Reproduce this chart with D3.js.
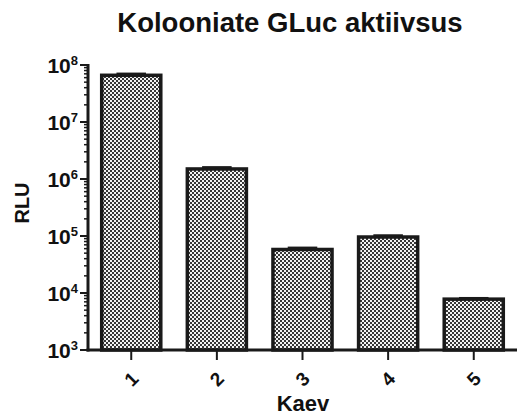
<!DOCTYPE html>
<html>
<head>
<meta charset="utf-8">
<script src="https://cdn.jsdelivr.net/npm/d3@7"></script>
<style>
  body { margin: 0; background: #fff; }
  text { font-family: "Liberation Sans", Arial, sans-serif; font-weight: bold; fill: #111; }
</style>
</head>
<body>
<div id="chart"></div>
<script>
const categories = ["1", "2", "3", "4", "5"];
const values = [6.6e7, 1.5e6, 5.8e4, 9.6e4, 7.8e3];
const errors = [4e6, 1e5, 4e3, 6e3, 3e2];
const decades = [3, 4, 5, 6, 7, 8];

const width = 517, height = 419;
const margin = { top: 65, right: 0, bottom: 69, left: 88 };

const svg = d3.select("#chart")
  .append("svg")
  .attr("width", width)
  .attr("height", height);

// checker fill like the original print
const defs = svg.append("defs");
const pat = defs.append("pattern")
  .attr("id", "checker")
  .attr("patternUnits", "userSpaceOnUse")
  .attr("width", 4)
  .attr("height", 4);
pat.append("rect").attr("width", 4).attr("height", 4).attr("fill", "#f4f4f4");
pat.append("rect").attr("width", 2).attr("height", 2).attr("fill", "#383838");
pat.append("rect").attr("x", 2).attr("y", 2).attr("width", 2).attr("height", 2).attr("fill", "#383838");

const x = d3.scaleBand()
  .domain(categories)
  .range([margin.left, width - margin.right])
  .paddingInner(0.31)
  .paddingOuter(0.16);

const y = d3.scaleLog()
  .domain([1e3, 1e8])
  .range([height - margin.bottom, margin.top]);

// bars
svg.selectAll(".bar")
  .data(values)
  .enter()
  .append("rect")
  .attr("class", "bar")
  .attr("x", (d, i) => x(categories[i]))
  .attr("y", d => y(d))
  .attr("width", x.bandwidth())
  .attr("height", d => y(1e3) - y(d))
  .attr("fill", "url(#checker)")
  .attr("stroke", "#1a1a1a")
  .attr("stroke-width", 3.5);

// error caps (upper only)
svg.selectAll(".err")
  .data(values)
  .enter()
  .append("g")
  .each(function (d, i) {
    const cx = x(categories[i]) + x.bandwidth() / 2;
    const g = d3.select(this);
    g.append("line")
      .attr("x1", cx).attr("x2", cx)
      .attr("y1", y(d)).attr("y2", y(d + errors[i]))
      .attr("stroke", "#1a1a1a").attr("stroke-width", 2);
    g.append("line")
      .attr("x1", cx - x.bandwidth() / 4).attr("x2", cx + x.bandwidth() / 4)
      .attr("y1", y(d + errors[i])).attr("y2", y(d + errors[i]))
      .attr("stroke", "#1a1a1a").attr("stroke-width", 2.5);
  });

// y axis
const yAxis = svg.append("g");
yAxis.append("line")
  .attr("x1", margin.left).attr("x2", margin.left)
  .attr("y1", y(1e8) - 1).attr("y2", y(1e3) + 1.5)
  .attr("stroke", "#1a1a1a").attr("stroke-width", 3);

const minor = [];
decades.slice(0, -1).forEach(p => {
  for (let k = 2; k <= 9; k++) minor.push(k * Math.pow(10, p));
});
yAxis.selectAll(".minor")
  .data(minor)
  .enter()
  .append("line")
  .attr("x1", margin.left - 4).attr("x2", margin.left)
  .attr("y1", d => y(d)).attr("y2", d => y(d))
  .attr("stroke", "#1a1a1a").attr("stroke-width", 1.5);

yAxis.selectAll(".major")
  .data(decades)
  .enter()
  .append("line")
  .attr("x1", margin.left - 8).attr("x2", margin.left)
  .attr("y1", d => y(Math.pow(10, d))).attr("y2", d => y(Math.pow(10, d)))
  .attr("stroke", "#1a1a1a").attr("stroke-width", 2);

const yl = yAxis.selectAll(".ylab")
  .data(decades)
  .enter()
  .append("text")
  .attr("x", margin.left - 10)
  .attr("y", d => y(Math.pow(10, d)) + 8)
  .attr("text-anchor", "end")
  .style("font-size", "21px");
yl.append("tspan").text("10");
yl.append("tspan")
  .attr("dy", -8)
  .style("font-size", "13px")
  .text(d => d);

// x axis
const xAxis = svg.append("g");
xAxis.append("line")
  .attr("x1", margin.left - 1.5).attr("x2", width)
  .attr("y1", y(1e3)).attr("y2", y(1e3))
  .attr("stroke", "#1a1a1a").attr("stroke-width", 3);

xAxis.selectAll(".xt")
  .data(categories)
  .enter()
  .append("line")
  .attr("x1", d => x(d) + x.bandwidth() / 2)
  .attr("x2", d => x(d) + x.bandwidth() / 2)
  .attr("y1", y(1e3)).attr("y2", y(1e3) + 10)
  .attr("stroke", "#1a1a1a").attr("stroke-width", 2);

xAxis.selectAll(".xlab")
  .data(categories)
  .enter()
  .append("text")
  .attr("transform", d => `translate(${x(d) + x.bandwidth() / 2}, ${y(1e3) + 29}) rotate(-45)`)
  .attr("text-anchor", "middle")
  .attr("dy", "0.35em")
  .style("font-size", "19px")
  .text(d => d);

// titles
svg.append("text")
  .attr("x", 290)
  .attr("y", 32)
  .attr("text-anchor", "middle")
  .style("font-size", "27.5px")
  .text("Kolooniate GLuc aktiivsus");

svg.append("text")
  .attr("x", 303)
  .attr("y", 411)
  .attr("text-anchor", "middle")
  .style("font-size", "22px")
  .text("Kaev");

svg.append("text")
  .attr("transform", "translate(29, 203) rotate(-90)")
  .attr("text-anchor", "middle")
  .style("font-size", "20px")
  .text("RLU");
</script>
</body>
</html>
